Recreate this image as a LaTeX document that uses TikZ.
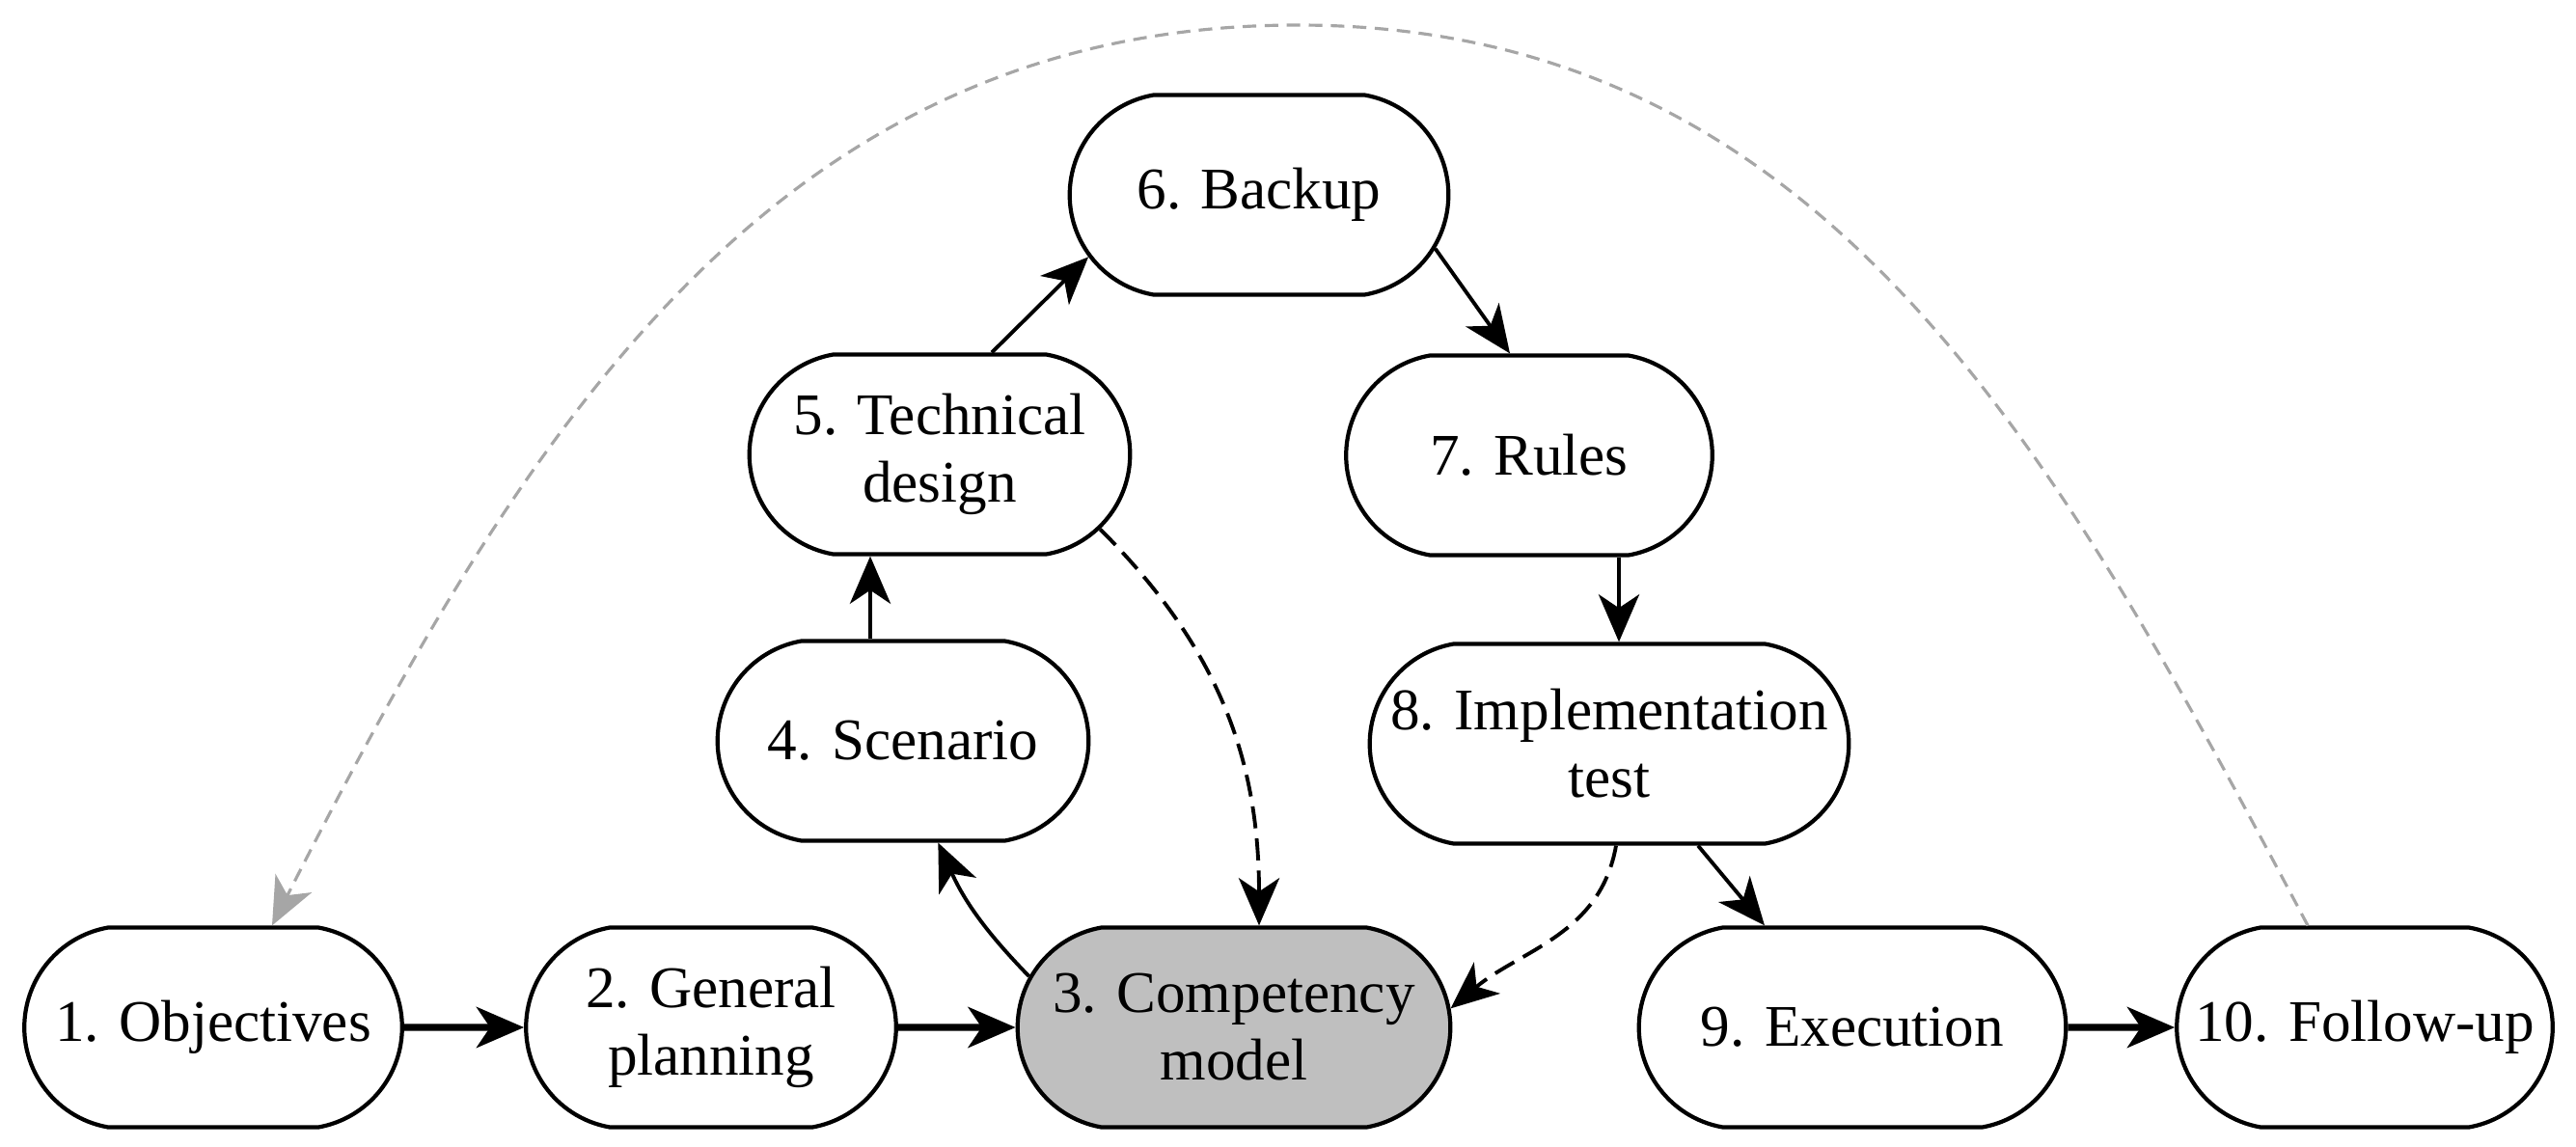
\documentclass[tikz,border=0pt]{standalone}
\usepackage{fontspec}
\setmainfont{Liberation Serif}
\usetikzlibrary{shapes.misc,arrows.meta}

\begin{document}
\begin{tikzpicture}[
    stage/.style={rounded rectangle, rounded rectangle arc length=160, draw,
        line width=1.2pt, fill=white, minimum height=2.07cm, align=center,
        font=\fontsize{17.4}{19.9}\selectfont},
    arr/.style={-{Stealth[length=14pt,width=12pt,inset=4pt]}, line width=1.1pt},
    dasharr/.style={arr, dash pattern=on 6.5pt off 3pt},
    backarr/.style={-{Stealth[length=14pt,width=12pt,inset=4pt]}, draw=black!35,
        line width=0.9pt, dash pattern=on 4pt off 2.5pt}]
    \useasboundingbox (0,0) rectangle (26.7,11.88);

    % Define node positions
    \node[stage, minimum width=4.15cm] (O) at (2.21, 1.23) {1. Objectives};
    \node[stage, minimum width=4.07cm] (G) at (7.37, 1.23) {2. General\\planning};
    \node[stage, minimum width=4.72cm, fill=black!25] (C) at (12.79, 1.23) {3. Competency\\model};
    \node[stage, minimum width=4.08cm] (S) at (9.36, 4.20) {4. Scenario};
    \node[stage, minimum width=4.18cm] (T) at (9.74, 7.17) {5. Technical\\design};
    \node[stage, minimum width=4.16cm] (B) at (13.05, 9.86) {6. Backup};
    \node[stage, minimum width=4.03cm] (R) at (15.85, 7.16) {7. Rules};
    \node[stage, minimum width=5.20cm] (I) at (16.68, 4.17) {8. Implementation\\test};
    \node[stage, minimum width=4.66cm] (E) at (19.20, 1.23) {9. Execution};
    \node[stage, minimum width=4.13cm] (F) at (24.51, 1.23) {10. Follow-up};
    \coordinate (apex) at (13.45, 11.62);

    % Draw arrows
    \draw[arr, line width=2pt] (O) -- (G);
    \draw[arr, line width=2pt] (G) -- (C);
    \draw[arr] (C.166) to[bend left=10] (S.-71);
    \draw[arr] ([xshift=-3.4mm]S.north) -- ([xshift=-3.4mm]S.north |- T.south);
    \draw[arr] ([xshift=5.4mm]T.north) -- (B.200);
    \draw[arr] (B.-17) -- ([xshift=-2mm]R.north);
    \draw[arr] ([xshift=9.3mm]R.south) -- ([xshift=9.3mm]R.south |- I.north);
    \draw[arr] ([xshift=9.2mm]I.south) -- ([xshift=-9.1mm]E.north);
    \draw[arr, line width=2pt] (E) -- (F);

    % Feedback to the competency model
    \draw[dasharr] (T.-25) to[out=-45, in=90] ([xshift=2.6mm]C.north);
    \draw[dasharr] ([xshift=0.7mm]I.south) to[out=-100, in=40] (C.5);

    % Back to the objectives
    \draw[backarr] ([xshift=-5.9mm]F.north) to[out=118, in=0] (apex)
        to[out=180, in=63] ([xshift=6.1mm]O.north);
\end{tikzpicture}
\end{document}
